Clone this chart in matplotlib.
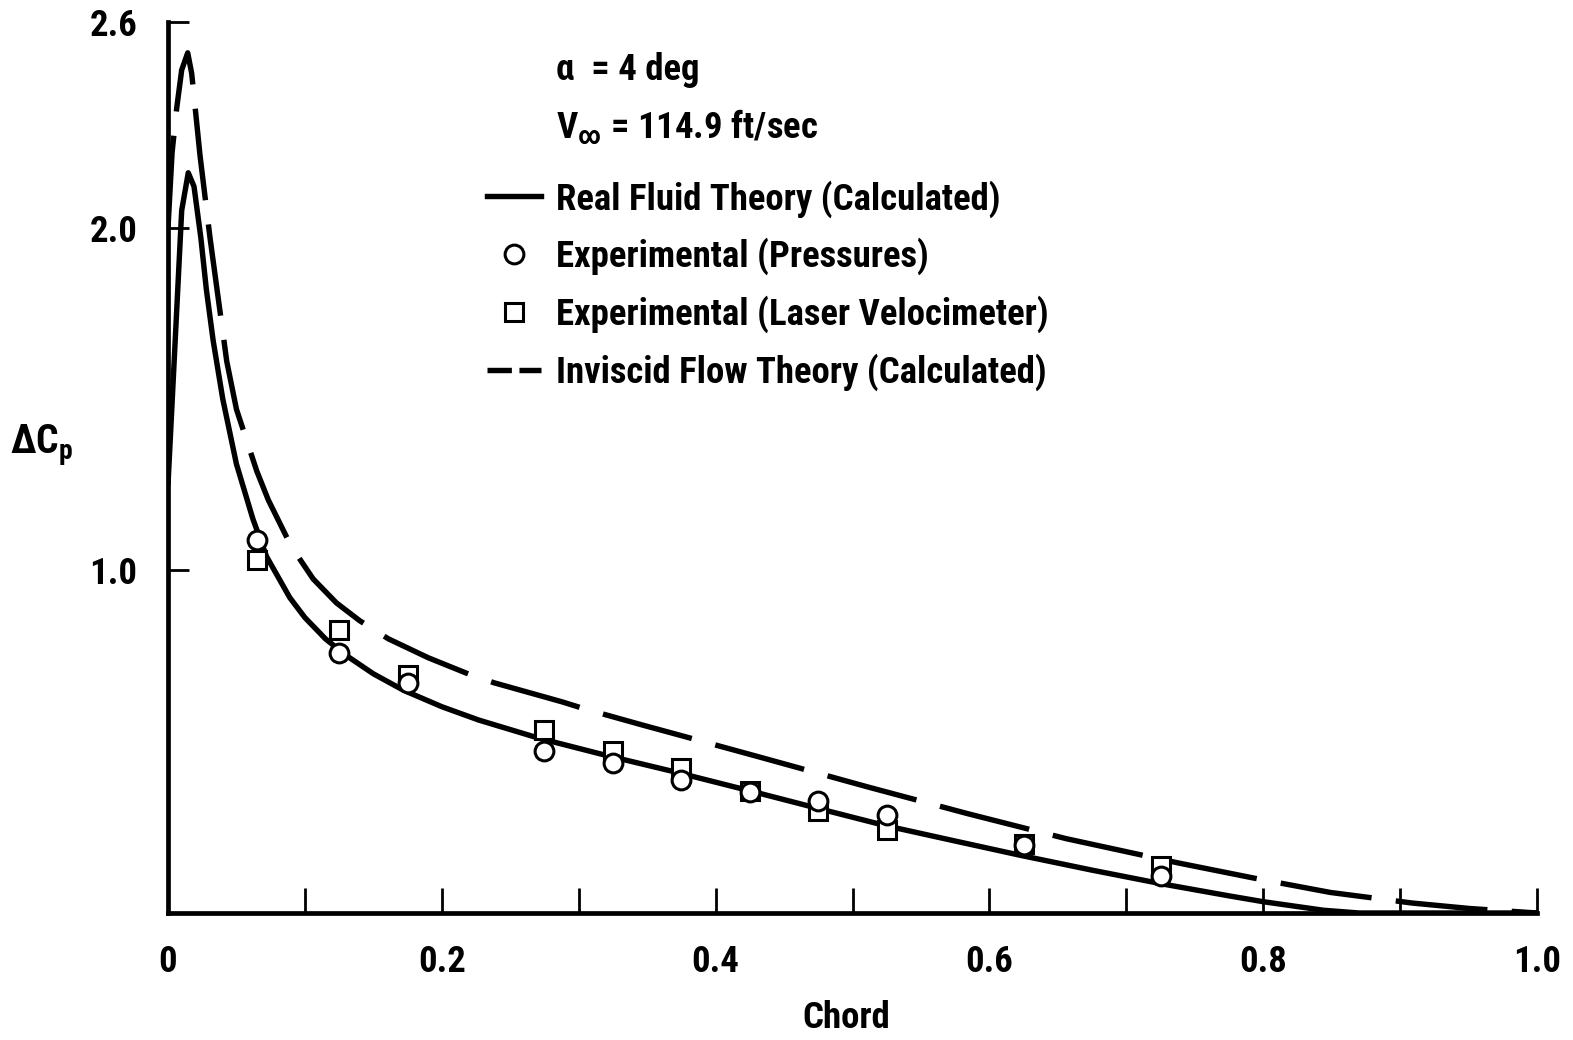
import matplotlib
matplotlib.use("Agg")
import matplotlib.pyplot as plt
import matplotlib.font_manager as fm
from matplotlib.lines import Line2D

# ---------------- data ----------------
real_x = [0.000, 0.006, 0.010, 0.0148, 0.019, 0.024, 0.028, 0.033, 0.040, 0.050,
          0.062, 0.072, 0.089, 0.100, 0.115, 0.130, 0.150, 0.172, 0.200, 0.227,
          0.271, 0.320, 0.370, 0.4265, 0.475, 0.524, 0.575, 0.623, 0.675, 0.726,
          0.775, 0.800, 0.844, 0.870, 1.000]
real_y = [1.25, 1.73, 2.05, 2.16, 2.12, 1.97, 1.82, 1.67, 1.50, 1.31,
          1.15, 1.04, 0.92, 0.862, 0.800, 0.752, 0.698, 0.650, 0.602, 0.563,
          0.510, 0.460, 0.412, 0.355, 0.305, 0.255, 0.21, 0.168, 0.125, 0.085,
          0.050, 0.033, 0.008, 0.0, 0.0]

invis_x = [0.000, 0.003, 0.0064, 0.010, 0.0144, 0.0173, 0.0234, 0.0307, 0.0392, 0.0429,
           0.050, 0.0648, 0.0733, 0.090, 0.106, 0.123, 0.140, 0.161, 0.190, 0.221,
           0.238, 0.288, 0.304, 0.347, 0.370, 0.434, 0.511, 0.584, 0.656, 0.738,
           0.793, 0.849, 0.909, 0.951, 1.000]
invis_y = [2.00, 2.22, 2.35, 2.46, 2.51, 2.45, 2.21, 1.97, 1.72, 1.61,
           1.47, 1.29, 1.205, 1.07, 0.975, 0.905, 0.853, 0.800, 0.745, 0.695,
           0.672, 0.616, 0.596, 0.548, 0.523, 0.453, 0.368, 0.290, 0.217, 0.146,
           0.102, 0.060, 0.029, 0.013, 0.0]

exp_x = [0.065, 0.125, 0.175, 0.275, 0.325, 0.375, 0.425, 0.475, 0.525, 0.625, 0.725]
press_y = [1.087, 0.759, 0.672, 0.472, 0.437, 0.388, 0.353, 0.326, 0.287, 0.198, 0.108]
laser_y = [1.030, 0.826, 0.695, 0.535, 0.473, 0.422, 0.355, 0.298, 0.243, 0.202, 0.138]

x_ticks = [0.0, 0.2, 0.4, 0.6, 0.8, 1.0]
x_tick_labels = ["0", "0.2", "0.4", "0.6", "0.8", "1.0"]
x_minor = [0.1, 0.3, 0.5, 0.7, 0.9]
y_ticks = [1.0, 2.0, 2.6]
y_tick_labels = ["1.0", "2.0", "2.6"]

labels = ["Real Fluid Theory (Calculated)", "Experimental (Pressures)",
          "Experimental (Laser Velocimeter)", "Inviscid Flow Theory (Calculated)"]

# ---------------- font ----------------
names = {f.name for f in fm.fontManager.ttflist}
family = None
for cand in ["Roboto Condensed", "Liberation Sans Narrow", "Open Sans Condensed",
             "DejaVu Sans Condensed"]:
    if cand in names:
        family = cand
        break
stretch = "normal"
if family is None:
    family = "DejaVu Sans"
    stretch = "condensed"
plt.rcParams["font.family"] = [family, "DejaVu Sans"]
plt.rcParams["font.stretch"] = stretch
plt.rcParams["font.weight"] = "bold"
plt.rcParams["mathtext.fontset"] = "custom"
plt.rcParams["mathtext.rm"] = family + ":bold"
plt.rcParams["mathtext.it"] = family + ":bold"
plt.rcParams["mathtext.bf"] = family + ":bold"

FS = 26.5
W, H = 1573, 1040
fig = plt.figure(figsize=(W / 100, H / 100), dpi=100)
ax = fig.add_axes([168 / W, 127 / H, 1369 / W, 891 / H])

LW = 3.9
ax.plot(real_x, real_y, color="black", lw=LW, solid_capstyle="round",
        solid_joinstyle="round", zorder=3)
ax.plot(invis_x, invis_y, color="black", lw=LW, dashes=(17, 4.5), zorder=3)
ax.plot(exp_x, press_y, linestyle="none", marker="o", ms=13.5, mfc="white",
        mec="black", mew=2.2, zorder=5)
ax.plot(exp_x, laser_y, linestyle="none", marker="s", ms=13, mfc="white",
        mec="black", mew=2.2, zorder=4)

ax.set_xlim(0, 1.0)
ax.set_ylim(0, 2.6)
for s in ["top", "right"]:
    ax.spines[s].set_visible(False)
for s in ["left", "bottom"]:
    ax.spines[s].set_linewidth(3.4)

ax.set_xticks(x_ticks)
ax.set_xticklabels(x_tick_labels)
ax.set_xticks(x_minor, minor=True)
ax.set_yticks(y_ticks)
ax.set_yticklabels(y_tick_labels)
ax.tick_params(axis="x", which="both", direction="in", length=18, width=2.0,
               pad=22, labelsize=FS)
ax.tick_params(axis="y", which="both", direction="in", length=15, width=2.0,
               pad=22, labelsize=FS)

fig.text(10 / W, 1 - 445 / H, r"$\Delta$C$_{\rm p}$", fontsize=FS + 2,
         ha="left", va="center")
fig.text(846 / W, 1 - 1018 / H, "Chord", fontsize=FS, ha="center", va="center")

fig.text(556 / W, 1 - 70 / H, "α  = 4 deg", fontsize=FS, ha="left", va="center")
fig.text(556 / W, 1 - 127 / H, r"V$_{\infty}$ = 114.9 ft/sec", fontsize=FS,
         ha="left", va="center")

handles = [
    Line2D([], [], color="black", lw=LW),
    Line2D([], [], linestyle="none", marker="o", ms=13.5, mfc="white", mec="black", mew=2.2),
    Line2D([], [], linestyle="none", marker="s", ms=13, mfc="white", mec="black", mew=2.2),
    Line2D([], [], color="black", lw=LW, dashes=(4.5, 1.4)),
]
FSpx = FS * 100 / 72
ax.legend(handles, labels, loc="upper left",
          bbox_to_anchor=(487 / W, 1 - 180 / H), bbox_transform=fig.transFigure,
          frameon=False, fontsize=FS, borderpad=0, borderaxespad=0,
          handlelength=54 / FSpx, handletextpad=15 / FSpx, labelspacing=0.55)

fig.savefig("out.png", dpi=100)
